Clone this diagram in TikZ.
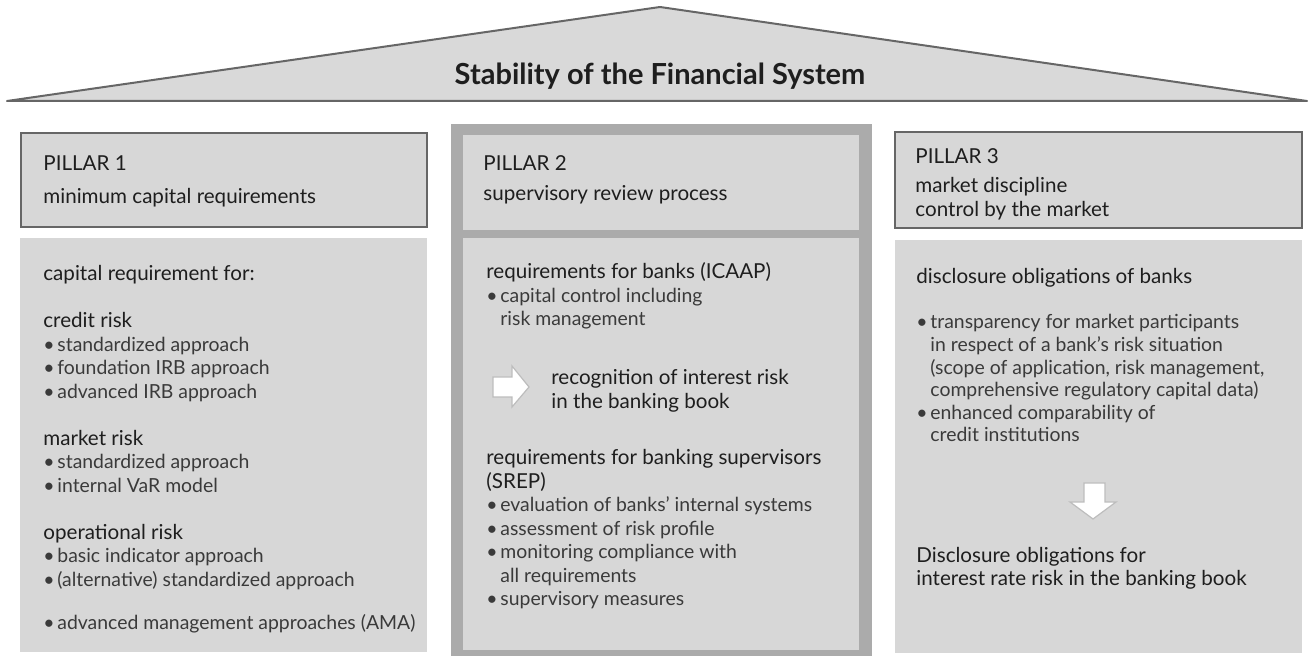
\documentclass[tikz,border=0pt]{standalone}
\usepackage{fontspec}
\setmainfont{Lato}
\usetikzlibrary{positioning}
\definecolor{roofgray}{HTML}{D9D9D9}
\definecolor{boxgray}{HTML}{D7D7D7}
\definecolor{framegray}{HTML}{ABABAB}
\definecolor{edgegray}{HTML}{666666}
\definecolor{inkgray}{HTML}{1E1E1E}
\definecolor{lightink}{HTML}{3A3A3A}
\definecolor{arrowedge}{HTML}{BDBDBD}
\newcommand{\bul}{\makebox[7pt][l]{\textbullet}}
\newcommand{\ind}{\hspace*{7pt}}
% first line of a stack sits on the node's base line
\newcommand{\stack}[1]{\begin{tabular}[t]{@{}l@{}}#1\end{tabular}}

\begin{document}
\begin{tikzpicture}[x=0.5pt,y=-0.5pt,
roof/.style={fill=roofgray, draw=edgegray, line width=1pt, line join=round},
headbox/.style={fill=boxgray, draw=edgegray, line width=0.7pt},
bodybox/.style={fill=boxgray},
frame/.style={fill=framegray},
head/.style={anchor=base west, inner sep=0pt, text=inkgray, font=\fontsize{10.3}{11.75}\selectfont},
txt/.style={head, text=lightink, font=\fontsize{9.7}{11.75}\selectfont},
fatarrow/.style={fill=white, draw=arrowedge, line width=0.6pt, line join=miter}
]
\useasboundingbox (0,0) rectangle (1310,656);

% roof
\draw [roof] (7,101) -- (660,7) -- (1307,101) -- cycle;
\node (title) [anchor=base, inner sep=0pt, text=inkgray, font=\bfseries\fontsize{14.5}{17}\selectfont] at (660,85) {Stability of the Financial System};

% pillar boxes
\fill [frame] (451,124) rectangle (872,656);
\draw [headbox] (21,133) rectangle (427,227);
\fill [bodybox] (20,238) rectangle (427,652);
\fill [bodybox] (463,135) rectangle (859,230);
\fill [bodybox] (463,238) rectangle (859,650);
\draw [headbox] (895,132) rectangle (1302,228);
\fill [bodybox] (895,240) rectangle (1302,653);

% headers
\node (p1) [head] at (43,171) {PILLAR 1};
\node (p1sub) [head] at (43,204) {minimum capital requirements};
\node (p2) [head] at (483,171) {PILLAR 2};
\node (p2sub) [head] at (483,201) {supervisory review process};
\node (p3) [head] at (915,164) {PILLAR 3};
\node (p3sub) [head] at (915,193) {\stack{market discipline\\control by the market}};

% pillar 1
\node (capreq) [head] at (43,281) {capital requirement for:};
\node (credit) [head] at (43,328) {credit risk};
\node (creditlist) [txt] at (43,351.5) {\stack{\bul standardized approach\\\bul foundation IRB approach\\\bul advanced IRB approach}};
\node (market) [head] at (43,445.5) {market risk};
\node (marketlist) [txt] at (43,469) {\stack{\bul standardized approach\\\bul internal VaR model}};
\node (oprisk) [head] at (43,539.5) {operational risk};
\node (oplist) [txt] at (43,563) {\stack{\bul basic indicator approach\\\bul (alternative) standardized approach\\[9.5pt]\bul advanced management approaches (AMA)}};

% pillar 2
\node (icaap) [head] at (486,279) {requirements for banks (ICAAP)};
\node (icaaplist) [txt] at (486,302.5) {\stack{\bul capital control including\\\ind risk management}};
\draw [fatarrow] (493,377) -- (512,377) -- (512,366) -- (529,387) -- (512,407) -- (512,397) -- (493,397) -- cycle;
\node (irrbb) [head] at (551,385) {\stack{recognition of interest risk\\in the banking book}};
\node (srep) [head] at (486,465) {\stack{requirements for banking supervisors\\(SREP)}};
\node (sreplist) [txt] at (486,512) {\stack{\bul evaluation of banks' internal systems\\\bul assessment of risk profile\\\bul monitoring compliance with\\\ind all requirements\\\bul supervisory measures}};

% pillar 3
\node (discl) [head] at (916,284) {disclosure obligations of banks};
\node (discllist) [txt, font=\fontsize{9.7}{11.3}\selectfont] at (916,329) {\stack{\bul transparency for market participants\\\ind in respect of a bank's risk situation\\\ind (scope of application, risk management,\\\ind comprehensive regulatory capital data)\\\bul enhanced comparability of\\\ind credit institutions}};
\draw [fatarrow] (1084,483) -- (1105,483) -- (1105,502) -- (1116,502) -- (1093,519) -- (1070,502) -- (1084,502) -- cycle;
\node (disclirr) [head] at (916,562) {\stack{Disclosure obligations for\\interest rate risk in the banking book}};
\end{tikzpicture}
\end{document}
